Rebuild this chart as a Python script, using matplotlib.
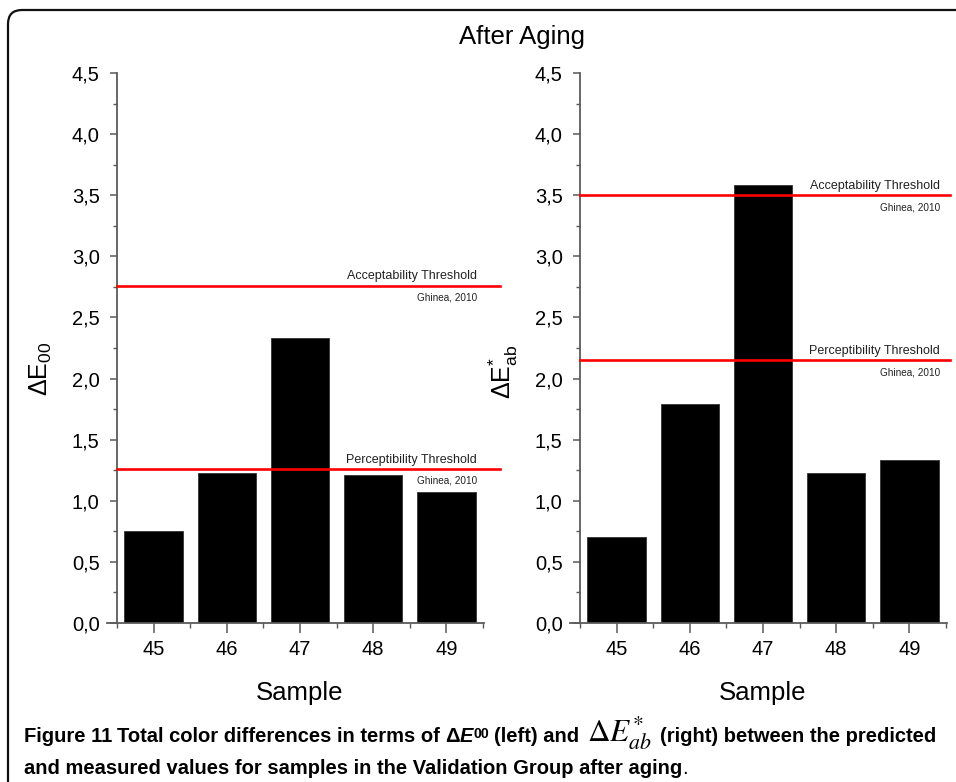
import matplotlib
matplotlib.use("Agg")
import matplotlib.pyplot as plt
from matplotlib.patches import FancyBboxPatch
from matplotlib.transforms import IdentityTransform
from matplotlib.ticker import FixedLocator, FuncFormatter, MultipleLocator

# ---------------- data ----------------
samples = [45, 46, 47, 48, 49]
sample_labels = ["45", "46", "47", "48", "49"]
de00_values = [0.75, 1.23, 2.33, 1.21, 1.07]
deab_values = [0.70, 1.79, 3.58, 1.23, 1.33]
threshold_names = ["Acceptability Threshold", "Perceptibility Threshold"]
de00_thresholds = [2.76, 1.26]
deab_thresholds = [3.50, 2.15]
threshold_source = "Ghinea, 2010"
title_text = "After Aging"
xlabel_text = "Sample"

W, H = 956, 782
plt.rcParams["font.family"] = ["Liberation Sans", "DejaVu Sans"]
plt.rcParams["mathtext.fontset"] = "custom"
plt.rcParams["mathtext.rm"] = "Liberation Sans"
plt.rcParams["mathtext.it"] = "Liberation Sans:italic"
plt.rcParams["mathtext.bf"] = "Liberation Sans:bold"

fig = plt.figure(figsize=(W / 100, H / 100), dpi=100)
fig.patch.set_facecolor("white")

def px_axes(x0, x1, y0, y1):
    return fig.add_axes([x0 / W, (H - y1) / H, (x1 - x0) / W, (y1 - y0) / H])

spine_col = "#5a5a5a"

def style_axis(ax, values, thresholds, ext):
    ax.bar(samples, values, width=0.8, color="black", edgecolor="#333333", linewidth=0.6, zorder=2)
    ax.set_xlim(44.5, 49.5)
    ax.set_ylim(0, 4.5)
    for s in ["top", "right"]:
        ax.spines[s].set_visible(False)
    for s in ["left", "bottom"]:
        ax.spines[s].set_color(spine_col)
        ax.spines[s].set_linewidth(1.3)
    ax.spines["bottom"].set_bounds(44.36, 49.52)
    ax.yaxis.set_major_locator(MultipleLocator(0.5))
    ax.yaxis.set_minor_locator(MultipleLocator(0.25))
    ax.yaxis.set_major_formatter(FuncFormatter(lambda v, p: f"{v:.1f}".replace(".", ",")))
    ax.xaxis.set_major_locator(FixedLocator(samples))
    ax.set_xticklabels(sample_labels)
    ax.xaxis.set_minor_locator(FixedLocator([44.5, 45.5, 46.5, 47.5, 48.5, 49.5]))
    ax.tick_params(axis="y", which="major", direction="out", length=5, width=1.1,
                   color=spine_col, labelsize=14.5, pad=7.5)
    ax.tick_params(axis="y", which="minor", direction="out", length=3, width=1.0, color=spine_col)
    ax.tick_params(axis="x", which="major", direction="out", length=7, width=1.1,
                   color=spine_col, labelsize=14.5, pad=5)
    ax.tick_params(axis="x", which="minor", direction="out", length=3.5, width=1.0, color=spine_col)
    ax.set_xlabel(xlabel_text, fontsize=18.5, labelpad=16)
    for name, val in zip(threshold_names, thresholds):
        ax.axhline(val, xmin=0, xmax=ext, color="red", linewidth=1.9, zorder=3, clip_on=False)
        ax.annotate(name, xy=(0.984, val), xycoords=("axes fraction", "data"),
                    xytext=(0, 2.5), textcoords="offset points",
                    ha="right", va="bottom", fontsize=9, color="#222222")
        ax.annotate(threshold_source, xy=(0.984, val), xycoords=("axes fraction", "data"),
                    xytext=(0, -5), textcoords="offset points",
                    ha="right", va="top", fontsize=7.2, color="#222222")

ax1 = px_axes(117, 483, 73, 623)
style_axis(ax1, de00_values, de00_thresholds, (500 - 117) / 366)
ax2 = px_axes(580, 946, 73, 623)
style_axis(ax2, deab_values, deab_thresholds, (950 - 580) / 366)

# y labels
fig.text(41 / W, (H - 369) / H, r"$\mathrm{\Delta E}_{\mathrm{00}}$", rotation=90,
         ha="center", va="center", fontsize=18)
fig.text(503 / W, (H - 372) / H, r"$\mathrm{\Delta E}^{*}_{\mathrm{ab}}$", rotation=90,
         ha="center", va="center", fontsize=18)

# title
fig.text(522 / W, (H - 44) / H, title_text, ha="center", va="baseline", fontsize=18.5)

# border (rounded top-left corner, top and left edges)
border = FancyBboxPatch((8, -60), W + 80, H - 10 + 60, boxstyle="round,pad=0,rounding_size=14",
                        transform=IdentityTransform(), facecolor="none", edgecolor="#111111",
                        linewidth=1.6, clip_on=False)
fig.patches.append(border)

# caption
cap_family = ["Liberation Sans", "DejaVu Sans"]
renderer = fig.canvas.get_renderer()

def chain(pieces, x0, base):
    x = x0
    for txt, kw, dy, gap in pieces:
        t = fig.text(x / W, (H - base - dy) / H, txt, ha="left", va="baseline", **kw)
        bb = t.get_window_extent(renderer=renderer)
        x = bb.x1 + gap
    return x

cs = 14.5
bold = dict(fontsize=cs, fontweight="bold", family=cap_family)
line1 = [
    ("Figure 11", bold, 0, 5),
    ("Total color differences in terms of", bold, 0, 5),
    ("Δ", bold, 0, 0),
    ("E", dict(fontsize=cs, fontweight="bold", style="italic", family=cap_family), 0, 0),
    ("00", dict(fontsize=cs * 0.7, fontweight="bold", family=cap_family), -4, 5),
    ("(left) and", bold, 0, 8),
    (r"$\Delta E^{*}_{ab}$", dict(fontsize=cs * 1.55, math_fontfamily="stix"), 0, 8),
    ("(right) between the predicted", bold, 0, 0),
]
chain(line1, 24, 742)
line2 = [
    ("and measured values for samples in the Validation Group after aging", bold, 0, 0),
    (".", dict(fontsize=cs, family=cap_family), 0, 0),
]
chain(line2, 24, 774)

fig.savefig("out.png", dpi=100)
